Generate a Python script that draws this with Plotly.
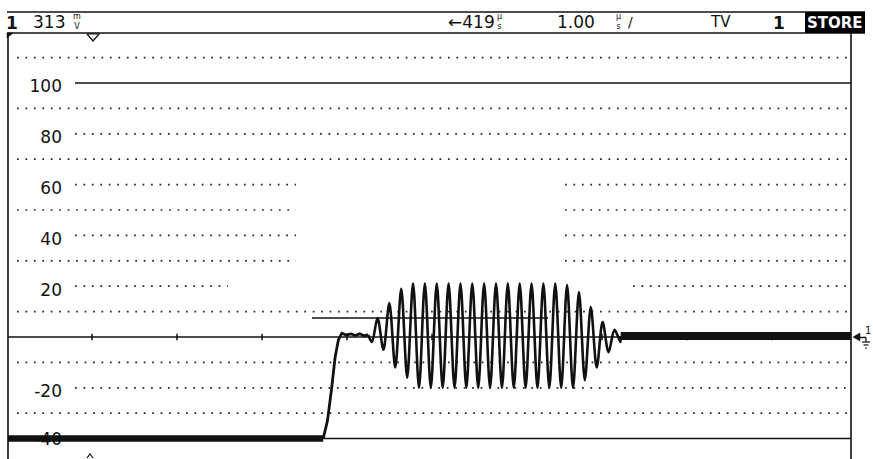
import plotly.graph_objects as go

scale_labels = [100, 80, 60, 40, 20, -20, -40]          # IRE graticule labels
div_ticks = [1, 2, 3, 4, 5, 6, 7, 8, 9]                   # µs (1.00 µs/div)

# sync tip
sync_t = [0.0, 3.72]
sync_v = [-40, -40]

# rising edge + back porch
edge_t = [3.72, 3.77, 3.82, 3.86, 3.90, 3.94, 3.99, 4.05, 4.10, 4.15, 4.20, 4.25]
edge_v = [-40, -33, -20, -8, -1, 1.5, 0.8, 1.2, 0.6, 1.3, 0.5, 0.8]

# colour burst: positive peaks
burst_peak_t = [4.359, 4.498, 4.638, 4.777, 4.916, 5.056, 5.195, 5.335, 5.474, 5.613,
                5.753, 5.892, 6.032, 6.171, 6.310, 6.450, 6.589, 6.729, 6.868, 7.007, 7.147]
burst_peak_v = [7.5, 13.4, 19, 21, 21, 21, 21, 21, 21, 21,
                21, 21, 21, 21, 21, 21, 20.5, 17.7, 11.8, 5.9, 2.8]
# colour burst: negative peaks (first one precedes the first positive peak)
burst_trough_t = [4.294, 4.429, 4.568, 4.708, 4.847, 4.986, 5.126, 5.265, 5.404, 5.544, 5.683,
                  5.823, 5.962, 6.101, 6.241, 6.380, 6.520, 6.659, 6.798, 6.938, 7.077, 7.217]
burst_trough_v = [-2, -5, -12, -16, -20, -20, -20, -20, -20, -20, -20,
                  -20, -20, -20, -20, -20, -20, -20, -17, -12, -6, -2]

# blanking level after the burst
tail_t = [7.22, 9.93]
tail_v = [0.4, 0.4]

# ---------------- geometry helpers ----------------
FW, FH = 873, 459
L, R, T, B = 8, 851, 33, 459
X0PX, XPX = 7, 85.0          # px of t=0, px per µs
Y0PX, YPX = 337, 2.54        # px of 0 IRE, px per IRE


def fx(px):
    return (px - L) / (R - L)


def fy(py):
    return (B - py) / (B - T)


def tx(px):
    return (px - X0PX) / XPX


xr = [tx(L), tx(R)]
yr = [(Y0PX - B) / YPX, (Y0PX - T) / YPX]

INK = "#111111"

# ---------------- traces ----------------
fig = go.Figure()

label_y = [v - 2.0 if v != -40 else v - 0.8 for v in scale_labels]
fig.add_trace(go.Scatter(
    x=[tx(62)] * len(scale_labels), y=label_y,
    text=[str(v) for v in scale_labels],
    mode="text", textposition="middle left",
    textfont=dict(family="DejaVu Sans", size=17, color=INK),
    hoverinfo="skip", showlegend=False))

# burst as alternating extremes
bt, bv = [edge_t[-1]], [edge_v[-1]]
bt.append(burst_trough_t[0]); bv.append(burst_trough_v[0])
for i in range(len(burst_peak_t)):
    bt.append(burst_peak_t[i]); bv.append(burst_peak_v[i])
    bt.append(burst_trough_t[i + 1]); bv.append(burst_trough_v[i + 1])
bt.append(tail_t[0]); bv.append(tail_v[0])

fig.add_trace(go.Scatter(x=sync_t, y=sync_v, mode="lines",
                         line=dict(color=INK, width=6.5), hoverinfo="skip", showlegend=False))
fig.add_trace(go.Scatter(x=edge_t, y=edge_v, mode="lines",
                         line=dict(color=INK, width=2.8), hoverinfo="skip", showlegend=False))
fig.add_trace(go.Scatter(x=bt, y=bv, mode="lines",
                         line=dict(color=INK, width=2.6, shape="spline", smoothing=0.9),
                         hoverinfo="skip", showlegend=False))
fig.add_trace(go.Scatter(x=tail_t, y=tail_v, mode="lines",
                         line=dict(color=INK, width=8), hoverinfo="skip", showlegend=False))

# ---------------- graticule ----------------
shapes = []
full = [(tx(17), tx(848))]
lab = [(tx(75), tx(848))]
gap_lab = [(tx(75), tx(296)), (tx(565), tx(848))]
gap_full = [(tx(17), tx(296)), (tx(565), tx(848))]
row20 = [(tx(75), tx(228)), (tx(633), tx(848))]
dotted_rows = [(110, full), (90, full), (80, lab), (70, full), (60, gap_lab), (50, gap_full),
               (40, gap_lab), (30, gap_full), (20, row20), (10, full), (-10, full),
               (-20, lab), (-30, full)]
for ire, segs in dotted_rows:
    for a, b in segs:
        shapes.append(dict(type="line", xref="x", yref="y", x0=a, x1=b, y0=ire, y1=ire,
                           layer="below",
                           line=dict(color="#222222", width=1.7, dash="1.7px,6.75px")))

solid = [(100, tx(75), tx(R)), (0, tx(L), tx(R)), (-40, tx(L), tx(R)), (7.5, tx(312), tx(548))]
for ire, a, b in solid:
    shapes.append(dict(type="line", xref="x", yref="y", x0=a, x1=b, y0=ire, y1=ire,
                       layer="below", line=dict(color=INK, width=1.5)))
for t in div_ticks:
    shapes.append(dict(type="line", xref="x", yref="y", x0=t, x1=t, y0=-1.3, y1=1.3,
                       layer="below", line=dict(color=INK, width=1.5)))


def pline(x0, y0, x1, y1, w=1.5):
    shapes.append(dict(type="line", xref="paper", yref="paper",
                       x0=fx(x0), x1=fx(x1), y0=fy(y0), y1=fy(y1),
                       line=dict(color=INK, width=w)))


def ppath(pts, fill=None, w=1.2):
    d = "M " + " L ".join(f"{fx(a)},{fy(b)}" for a, b in pts)
    if fill:
        d += " Z"
    shapes.append(dict(type="path", xref="paper", yref="paper", path=d,
                       fillcolor=fill if fill else "rgba(0,0,0,0)",
                       line=dict(color=INK, width=w)))


# frame + status bar
pline(7, 12, 865, 12, 1.6)
pline(7, 33, 865, 33, 1.6)
pline(L, 33, L, B, 1.6)
pline(R, 33, R, B, 1.6)
shapes.append(dict(type="rect", xref="paper", yref="paper",
                   x0=fx(805), x1=fx(865), y0=fy(33), y1=fy(12),
                   fillcolor="black", line=dict(width=0)))
ppath([(7, 33), (13, 33), (7, 38)], fill=INK, w=0.5)          # corner marker
ppath([(87, 34), (99, 34), (93, 41), (87, 34)], w=1.2)         # trigger marker
ppath([(87, 458), (90, 454), (93, 458)], w=1.2)               # bottom caret
ppath([(853, 337), (860, 333), (860, 341)], fill=INK, w=0.5)  # ground arrow
pline(858, 337.5, 866, 337.5, 1.5)
pline(866, 337.5, 866, 342, 1.2)
pline(862, 342, 870, 342, 1.2)
pline(863.5, 345, 868.5, 345, 1.2)
pline(865, 348, 867, 348, 1.2)

# ---------------- status bar text ----------------
ann = []


def txt(px, py, s, size=16, bold=False, color=INK, anchor="left"):
    ann.append(dict(xref="paper", yref="paper", x=fx(px), y=fy(py), text=f"<b>{s}</b>" if bold else s,
                    showarrow=False, xanchor=anchor, yanchor="middle", borderpad=0, borderwidth=0,
                    font=dict(family="DejaVu Sans", size=size, color=color)))


txt(6, 23, "1", 17, bold=True)
txt(33, 22, "313", 17)
txt(73, 22, "m<br>V", 8)
txt(495, 22, "\u2190419", 17, anchor="right")
txt(497, 22, "\u00b5<br>s", 8)
txt(557, 22, "1.00", 17)
txt(616, 22, "\u00b5<br>s", 8)
txt(628, 22, "/", 14)
txt(710, 22, "TV", 15)
txt(773, 23, "1", 17, bold=True)
txt(835, 23, "STORE", 15, bold=True, color="white", anchor="center")
txt(865, 330, "1", 10)

fig.update_layout(
    width=FW, height=FH, autosize=False,
    margin=dict(l=L, r=FW - R, t=T, b=FH - B, pad=0),
    paper_bgcolor="white", plot_bgcolor="white",
    xaxis=dict(range=xr, visible=False, fixedrange=True),
    yaxis=dict(range=yr, visible=False, fixedrange=True),
    shapes=shapes, annotations=ann, showlegend=False,
)

fig.write_html("out.html", post_script="document.body.style.margin='0px';",
               config={"displayModeBar": False})
